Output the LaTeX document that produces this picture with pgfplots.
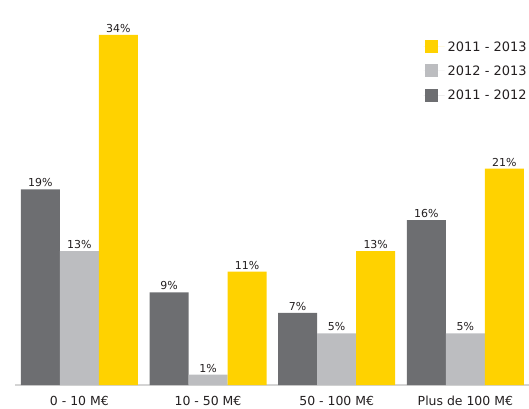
\documentclass[border=0pt]{standalone}
\usepackage{fontspec}
\setmainfont{DejaVu Sans}
\usepackage{pgfplots}
\pgfplotsset{compat=1.18}
\definecolor{dgray}{HTML}{6D6E71}
\definecolor{lgray}{HTML}{BCBDC0}
\definecolor{eyyel}{HTML}{FFD200}
\definecolor{axgray}{HTML}{D4D4D4}
\definecolor{txt}{HTML}{231F20}
\begin{document}
\begin{tikzpicture}
\useasboundingbox (-15bp,-24bp) rectangle (514bp,385bp);
\begin{axis}[
  at={(0,0)}, anchor=south west,
  scale only axis,
  width=514.7bp, height=370.8bp,
  xmin=-0.5, xmax=3.5, ymin=0, ymax=36,
  ybar=0pt, bar width=39bp,
  axis y line=none,
  axis x line*=bottom,
  x axis line style={draw=axgray, line width=1.5bp, -},
  xtick=data,
  xticklabels={0 - 10 M€, 10 - 50 M€, 50 - 100 M€, Plus de 100 M€},
  xtick style={draw=none},
  xticklabel style={font=\fontsize{12.5}{14}\selectfont, text=txt, yshift=-3.5bp},
  /pgf/number format/assume math mode=true,
  nodes near coords={\pgfmathprintnumber{\pgfplotspointmeta}\%},
  nodes near coords style={font=\fontsize{11}{12}\selectfont, text=txt, yshift=-1bp},
  enlarge x limits=false,
  clip=false,
  legend style={draw=none, fill=none, at={(1.0,0.94)}, anchor=north east,
    xshift=3bp, yshift=-1bp,
    font=\fontsize{13}{15}\selectfont, text=txt, row sep=10.5bp,
    /tikz/every node/.style={anchor=west}},
  legend cell align=left,
  reverse legend,
  legend image code/.code={\path (-1bp,0) -- (20bp,0); \fill[#1] (0bp,-6.5bp) rectangle (13bp,6.5bp);},
]
\addplot[fill=dgray, draw=none] coordinates {(0,19) (1,9) (2,7) (3,16)};
\addlegendentry{2011 - 2012}
\addplot[fill=lgray, draw=none] coordinates {(0,13) (1,1) (2,5) (3,5)};
\addlegendentry{2012 - 2013}
\addplot[fill=eyyel, draw=none] coordinates {(0,34) (1,11) (2,13) (3,21)};
\addlegendentry{2011 - 2013}
\end{axis}
\end{tikzpicture}
\end{document}
